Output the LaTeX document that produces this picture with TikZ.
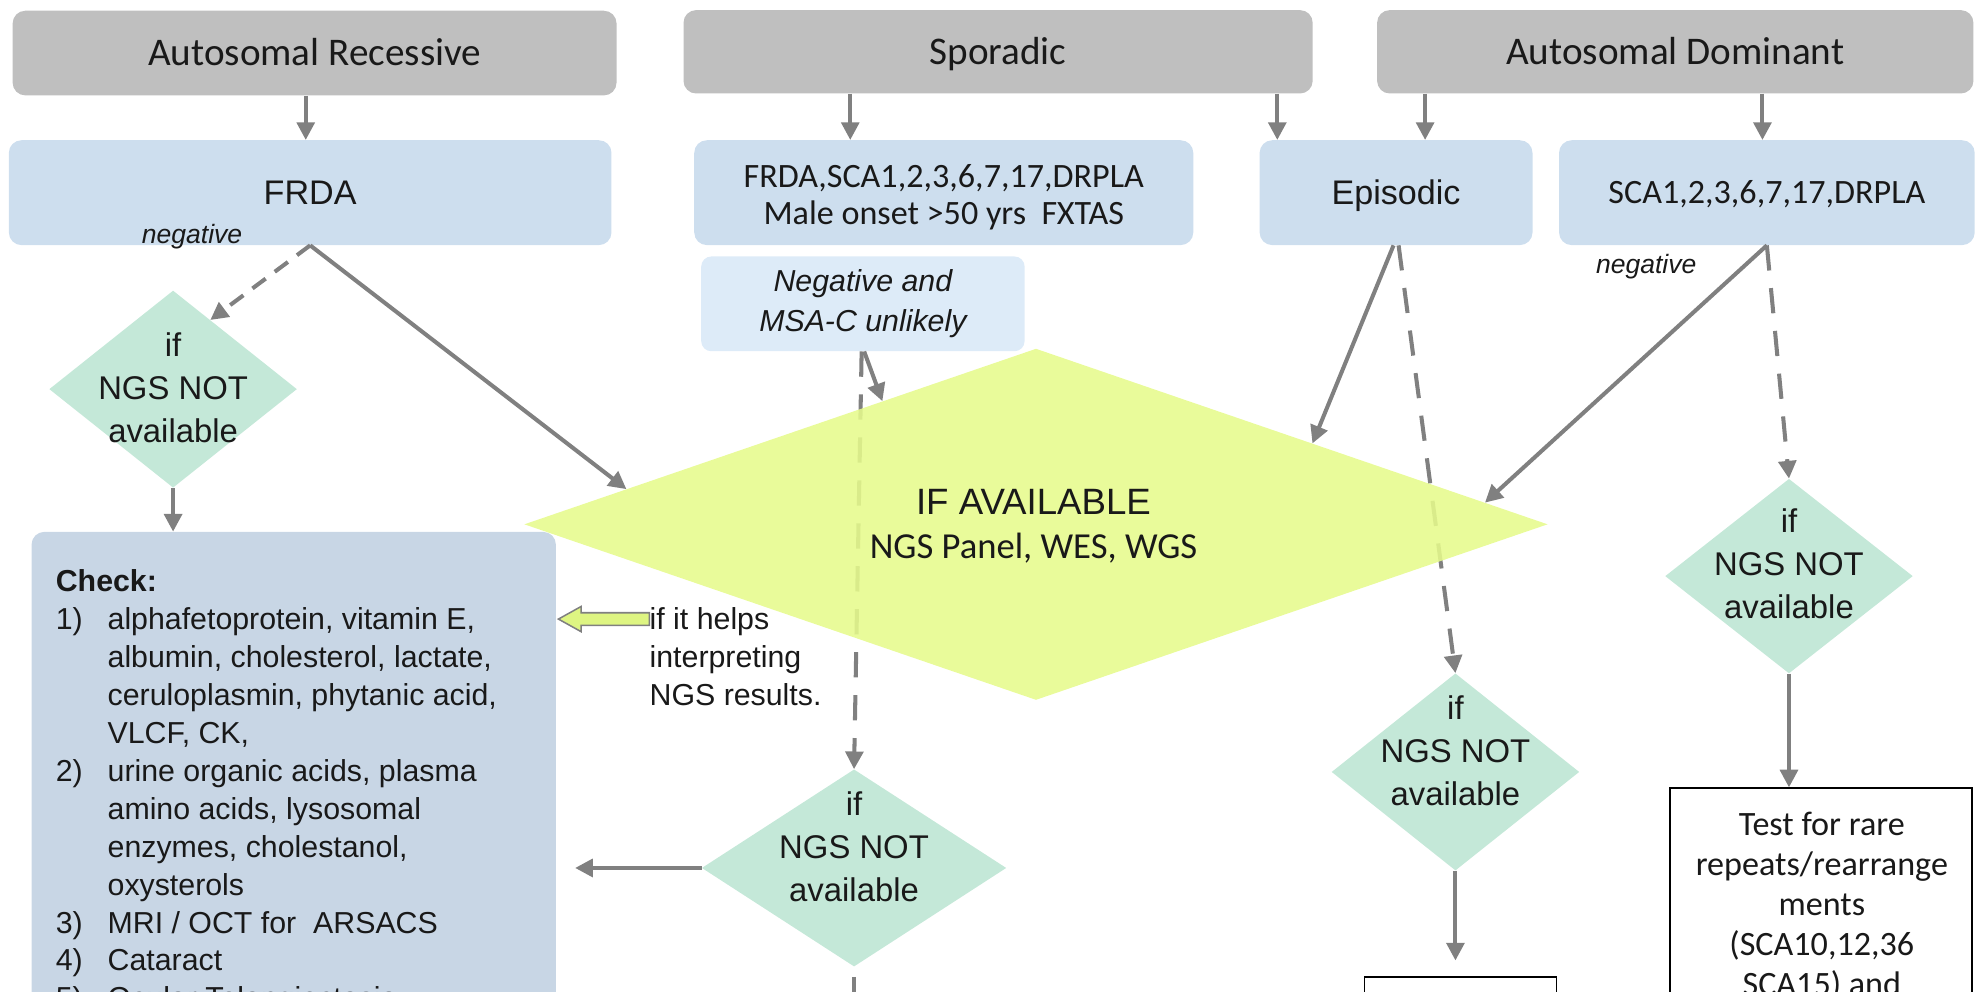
\documentclass[tikz,border=0pt]{standalone}
\usepackage{fontspec}
\setmainfont{Liberation Sans}
\newfontfamily\calfont{Carlito}
\usetikzlibrary{arrows.meta,calc,shapes.geometric}
\definecolor{hdr}{RGB}{191,191,191}
\definecolor{bbox}{RGB}{205,222,238}
\definecolor{lbox}{RGB}{221,235,248}
\definecolor{cbox}{RGB}{200,214,229}
\definecolor{gdia}{RGB}{196,232,216}
\definecolor{ydia}{RGB}{230,250,140}
\definecolor{arrg}{RGB}{128,128,128}
\definecolor{txt}{RGB}{25,25,25}
\definecolor{hollowfill}{RGB}{222,245,130}
\begin{document}
\begin{tikzpicture}[x=1pt,y=-1pt,
  every node/.append style={text=txt},
  hdrbox/.style={fill=hdr, rounded corners=10pt, inner sep=0pt, font=\calfont\fontsize{31}{36}\selectfont, text height=20pt, text depth=0pt},
  bluebox/.style={fill=bbox, rounded corners=10pt, inner sep=0pt, minimum height=83pt},
  capcal/.style={text height=17.4pt, text depth=0pt},
  capari/.style={text height=19.3pt, text depth=0pt},
  gdiam/.style={diamond, fill=gdia, inner sep=0pt},
  diatext/.style={align=center, font=\fontsize{26}{34}\selectfont, inner sep=0pt},
  conn/.style={draw=arrg, line width=3.2pt, -{Triangle[length=14pt,width=14pt]}},
  dconn/.style={conn, dash pattern=on 20pt off 14pt},
  neg/.style={font=\itshape\fontsize{21}{25}\selectfont, inner sep=0pt},
  chk/.style={anchor=base west, inner sep=0pt, font=\fontsize{24}{29}\selectfont},
  plainbox/.style={draw=black, line width=1.5pt, fill=white, inner sep=0pt},
  hollow/.style={draw=arrg, line width=1.2pt, fill=hollowfill},
]
\useasboundingbox (0,0) rectangle (1568,785);
\clip (0,0) rectangle (1568,785);

% header row
\node[hdrbox, minimum width=478pt, minimum height=67pt] (ar) at (249,42) {Autosomal Recessive};
\node[hdrbox, minimum width=498pt, minimum height=66pt] (sp) at (790,41) {Sporadic};
\node[hdrbox, minimum width=472pt, minimum height=66pt] (ad) at (1326,41) {Autosomal Dominant};

% second row
\node[bluebox, minimum width=477pt, capari, font=\fontsize{27}{32}\selectfont] (frda) at (245.5,152.5) {FRDA};
\node[bluebox, minimum width=395pt] (frdab) at (747,152.5) {};
\node[align=center, inner sep=0pt, font=\calfont\fontsize{27}{29}\selectfont] (frdabt) at (747,156) {FRDA,SCA1,2,3,6,7,17,DRPLA\\Male onset >50 yrs~~FXTAS};
\node[bluebox, minimum width=216pt, capari, font=\fontsize{27}{32}\selectfont] (epi) at (1105,152.5) {Episodic};
\node[bluebox, minimum width=329pt, capcal, font=\calfont\fontsize{27}{32}\selectfont] (sca) at (1398.5,152.5) {SCA1,2,3,6,7,17,DRPLA};
\node[fill=lbox, rounded corners=8pt, minimum width=256pt, minimum height=75pt, inner sep=0pt, align=center, font=\itshape\fontsize{24}{32}\selectfont] (msa) at (683,240.5) {Negative and\\MSA-C unlikely};

\node[neg] (neg1) at (152,187) {negative};
\node[neg] (neg2) at (1303,211) {negative};

% small diamonds
\node[gdiam, minimum width=196pt, minimum height=156pt] (d1) at (137,308) {};
\node[diatext] (d1t) at (137,307) {if\\NGS NOT\\available};
\node[gdiam, minimum width=241pt, minimum height=156pt] (d2) at (676,687) {};
\node[diatext] (d2t) at (676,670) {if\\NGS NOT\\available};
\node[gdiam, minimum width=196pt, minimum height=156pt] (d3) at (1152,611) {};
\node[diatext] (d3t) at (1152,594) {if\\NGS NOT\\available};
\node[gdiam, minimum width=196pt, minimum height=154pt] (d4) at (1416,456) {};
\node[diatext] (d4t) at (1416,446) {if\\NGS NOT\\available};

% check box
\node[fill=cbox, rounded corners=10pt, minimum width=415pt, minimum height=420pt, inner sep=0pt] (check) at (232.5,631) {};
\node[chk, font=\bfseries\fontsize{24}{29}\selectfont] (c0) at (44,468.5) {Check:};
\node[chk] (n1) at (44,498.5) {1)};
\node[chk] (c1) at (85,498.5) {alphafetoprotein, vitamin E,};
\node[chk] (c2) at (85,528.5) {albumin, cholesterol, lactate,};
\node[chk] (c3) at (85,558.5) {ceruloplasmin, phytanic acid,};
\node[chk] (c4) at (85,588.5) {VLCF, CK,};
\node[chk] (n2) at (44,618.5) {2)};
\node[chk] (c5) at (85,618.5) {urine organic acids, plasma};
\node[chk] (c6) at (85,648.5) {amino acids, lysosomal};
\node[chk] (c7) at (85,678.5) {enzymes, cholestanol,};
\node[chk] (c8) at (85,708.5) {oxysterols};
\node[chk] (n3) at (44,738.5) {3)};
\node[chk] (c9) at (85,738.5) {MRI / OCT for~~ARSACS};
\node[chk] (n4) at (44,768.5) {4)};
\node[chk] (c10) at (85,768.5) {Cataract};
\node[chk] (n5) at (44,798.5) {5)};
\node[chk] (c11) at (85,798.5) {Ocular Telangiectasia};

% if it helps
\node[chk] (help1) at (514,498.5) {if it helps};
\node[chk] (help2) at (514,528.5) {interpreting};
\node[chk] (help3) at (514,558.5) {NGS results.};
\coordinate (hb) at (514,490);
\draw[hollow] ($(hb)+(0,-5)$) -- ($(hb)+(-54,-5)$) -- ($(hb)+(-54,-10)$) -- ($(hb)+(-72,0)$) -- ($(hb)+(-54,10)$) -- ($(hb)+(-54,5)$) -- ($(hb)+(0,5)$) -- cycle;

% bottom right boxes
\node[plainbox, minimum width=239pt, minimum height=200pt] (test) at (1441.5,724) {};
\node[align=center, inner sep=0pt, font=\calfont\fontsize{27}{31.7}\selectfont] (testt) at (1442,717) {Test for rare\\repeats/rearrange\\ments\\(SCA10,12,36\\SCA15) and};
\node[plainbox, minimum width=152pt, minimum height=77pt] (box5) at (1156,811.5) {};

% header arrows
\draw[conn] ([xshift=-7pt]ar.south) -- ([xshift=-3.5pt]frda.north);
\draw[conn] ([xshift=-117pt]sp.south) -- ([xshift=-74pt]frdab.north);
\draw[conn] ([xshift=221pt]sp.south) -- ([xshift=-94pt]epi.north);
\draw[conn] ([xshift=-198pt]ad.south) -- ([xshift=23pt]epi.north);
\draw[conn] ([xshift=69pt]ad.south) -- ([xshift=-3.5pt]sca.north);

% dashed connectors (behind big diamond)
\draw[dconn, dash pattern=on 13pt off 9pt] (frda.south) -- ($(d1.north)!0.3!(d1.east)$);
\draw[dconn] ([xshift=-1pt]msa.south) -- (d2.north);
\draw[dconn] ([xshift=2pt]epi.south) -- (d3.north);
\draw[dconn] (sca.south) -- (d4.north);

% big diamond
\node[diamond, fill=ydia, fill opacity=0.88, minimum width=810pt, minimum height=278pt, inner sep=0pt] (yd) at (820,415) {};
\node[font=\fontsize{29}{34}\selectfont, inner sep=0pt] (ydt1) at (818,397) {IF AVAILABLE};
\node[font=\calfont\fontsize{29}{34}\selectfont, inner sep=0pt] (ydt2) at (818,434) {NGS Panel, WES, WGS};

% solid connectors into big diamond
\draw[conn] (frda.south) -- ($(yd.west)!0.2!(yd.north)$);
\draw[conn] ([xshift=1pt]msa.south) -- ($(yd.north)!0.3!(yd.west)$);
\draw[conn] ([xshift=-2pt]epi.south) -- ($(yd.north)!0.54!(yd.east)$);
\draw[conn] (sca.south) -- ($(yd.north)!0.877!(yd.east)$);

% remaining connectors
\draw[conn] (d1.south) -- (d1.south |- check.north);
\draw[conn, shorten >=15pt] (d2.west) -- (d2.west -| check.east);
\coordinate (d2out) at (676,800);
\draw[draw=arrg, line width=3.2pt] ([yshift=-8pt]d2.south) -- (d2out);
\draw[conn, shorten >=12pt] (d3.south) -- (d3.south |- box5.north);
\draw[conn] (d4.south) -- (d4.south |- test.north);
\end{tikzpicture}
\end{document}
